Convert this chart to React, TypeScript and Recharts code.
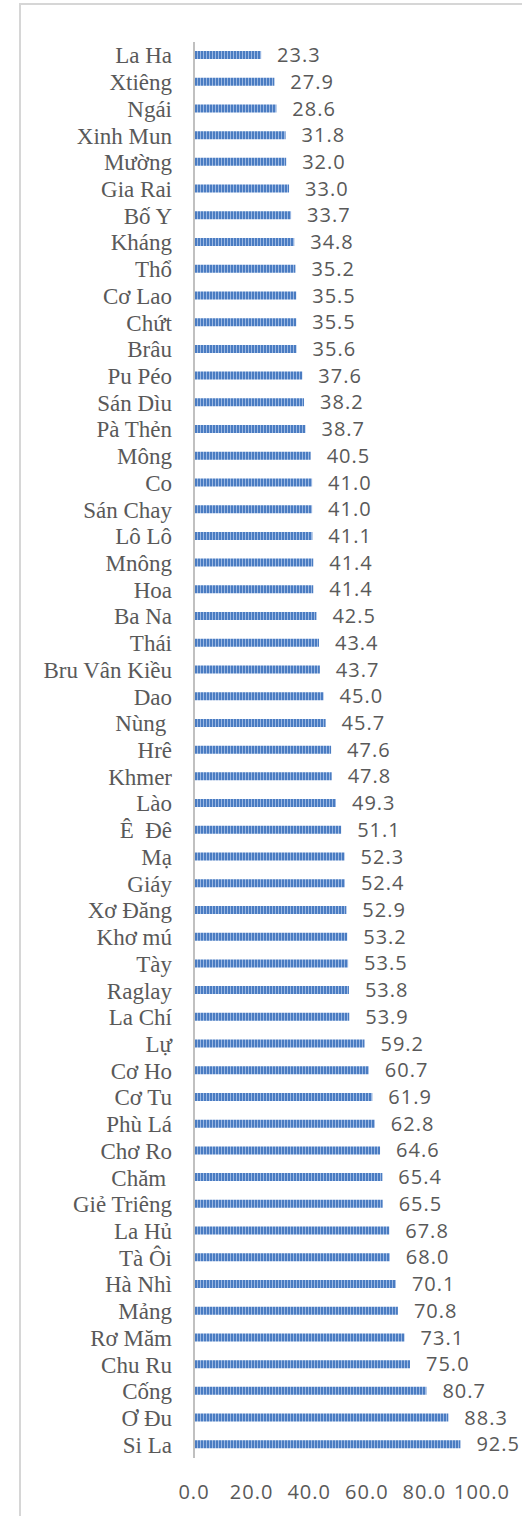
import React from 'react';
import { BarChart, Bar, XAxis, YAxis, LabelList } from 'recharts';

const groups = [
  'La Ha', 'Xtiêng', 'Ngái', 'Xinh Mun', 'Mường', 'Gia Rai', 'Bố Y', 'Kháng', 'Thổ', 'Cơ Lao',
  'Chứt', 'Brâu', 'Pu Péo', 'Sán Dìu', 'Pà Thẻn', 'Mông', 'Co', 'Sán Chay', 'Lô Lô', 'Mnông',
  'Hoa', 'Ba Na', 'Thái', 'Bru Vân Kiều', 'Dao', 'Nùng ', 'Hrê', 'Khmer', 'Lào', 'Ê  Đê',
  'Mạ', 'Giáy', 'Xơ Đăng', 'Khơ mú', 'Tày', 'Raglay', 'La Chí', 'Lự', 'Cơ Ho', 'Cơ Tu',
  'Phù Lá', 'Chơ Ro', 'Chăm ', 'Giẻ Triêng', 'La Hủ', 'Tà Ôi', 'Hà Nhì', 'Mảng', 'Rơ Măm', 'Chu Ru',
  'Cống', 'Ơ Đu', 'Si La',
];

const rates = [
  23.3, 27.9, 28.6, 31.8, 32.0, 33.0, 33.7, 34.8, 35.2, 35.5,
  35.5, 35.6, 37.6, 38.2, 38.7, 40.5, 41.0, 41.0, 41.1, 41.4,
  41.4, 42.5, 43.4, 43.7, 45.0, 45.7, 47.6, 47.8, 49.3, 51.1,
  52.3, 52.4, 52.9, 53.2, 53.5, 53.8, 53.9, 59.2, 60.7, 61.9,
  62.8, 64.6, 65.4, 65.5, 67.8, 68.0, 70.1, 70.8, 73.1, 75.0,
  80.7, 88.3, 92.5,
];

const xTicks = [0, 20, 40, 60, 80, 100];

const data = groups.map((name, i) => ({ name, value: rates[i] }));

const GREY = '#595959';
const NUM_FONT = '"Open Sans", "Liberation Sans", sans-serif';
const SERIF = '"Liberation Serif", "Times New Roman", "DejaVu Serif", serif';

function GroupTick({ x, y, payload }: any) {
  return (
    <text
      x={x}
      y={y}
      dy="0.35em"
      textAnchor="end"
      fill={GREY}
      style={{ whiteSpace: 'pre', fontFamily: SERIF, fontSize: 23 }}
    >
      {payload.value}
    </text>
  );
}

export default function App() {
  return (
    <div style={{ position: 'absolute', left: 0, top: 0, width: 522, height: 1516, background: '#fff' }}>
      <div
        style={{
          position: 'absolute',
          left: 19,
          top: 3,
          width: 520,
          height: 1530,
          border: '2px solid #d6d6d6',
          boxSizing: 'border-box',
        }}
      />
      <BarChart
        layout="vertical"
        width={522}
        height={1516}
        data={data}
        margin={{ top: 42, right: 40, bottom: 8, left: 0 }}
        style={{ position: 'absolute', left: 0, top: 0 }}
      >
        <defs>
          <pattern id="stripes" width="3" height="8" patternUnits="userSpaceOnUse">
            <rect x="0" y="0" width="3" height="8" fill="#4a7cc2" />
            <rect x="2" y="0" width="1" height="8" fill="#9bb8e3" />
          </pattern>
        </defs>
        <XAxis
          type="number"
          domain={[0, 100]}
          ticks={xTicks}
          tickFormatter={(v: number) => v.toFixed(1)}
          axisLine={false}
          tickLine={false}
          tickSize={0}
          tickMargin={27}
          height={50}
          tick={{ fill: GREY, fontSize: 20, fontFamily: NUM_FONT, letterSpacing: 1 }}
        />
        <YAxis
          type="category"
          dataKey="name"
          width={194}
          interval={0}
          axisLine={{ stroke: '#c0c0c0', strokeWidth: 2 }}
          tickLine={false}
          tickSize={0}
          tickMargin={22}
          tick={(props: any) => <GroupTick {...props} />}
        />
        <Bar dataKey="value" fill="url(#stripes)" barSize={8} isAnimationActive={false}>
          <LabelList
            dataKey="value"
            position="right"
            offset={16}
            formatter={(v: any) => Number(v).toFixed(1)}
            style={{ fill: GREY, fontSize: 20, fontFamily: NUM_FONT, letterSpacing: 1 }}
          />
        </Bar>
      </BarChart>
    </div>
  );
}
